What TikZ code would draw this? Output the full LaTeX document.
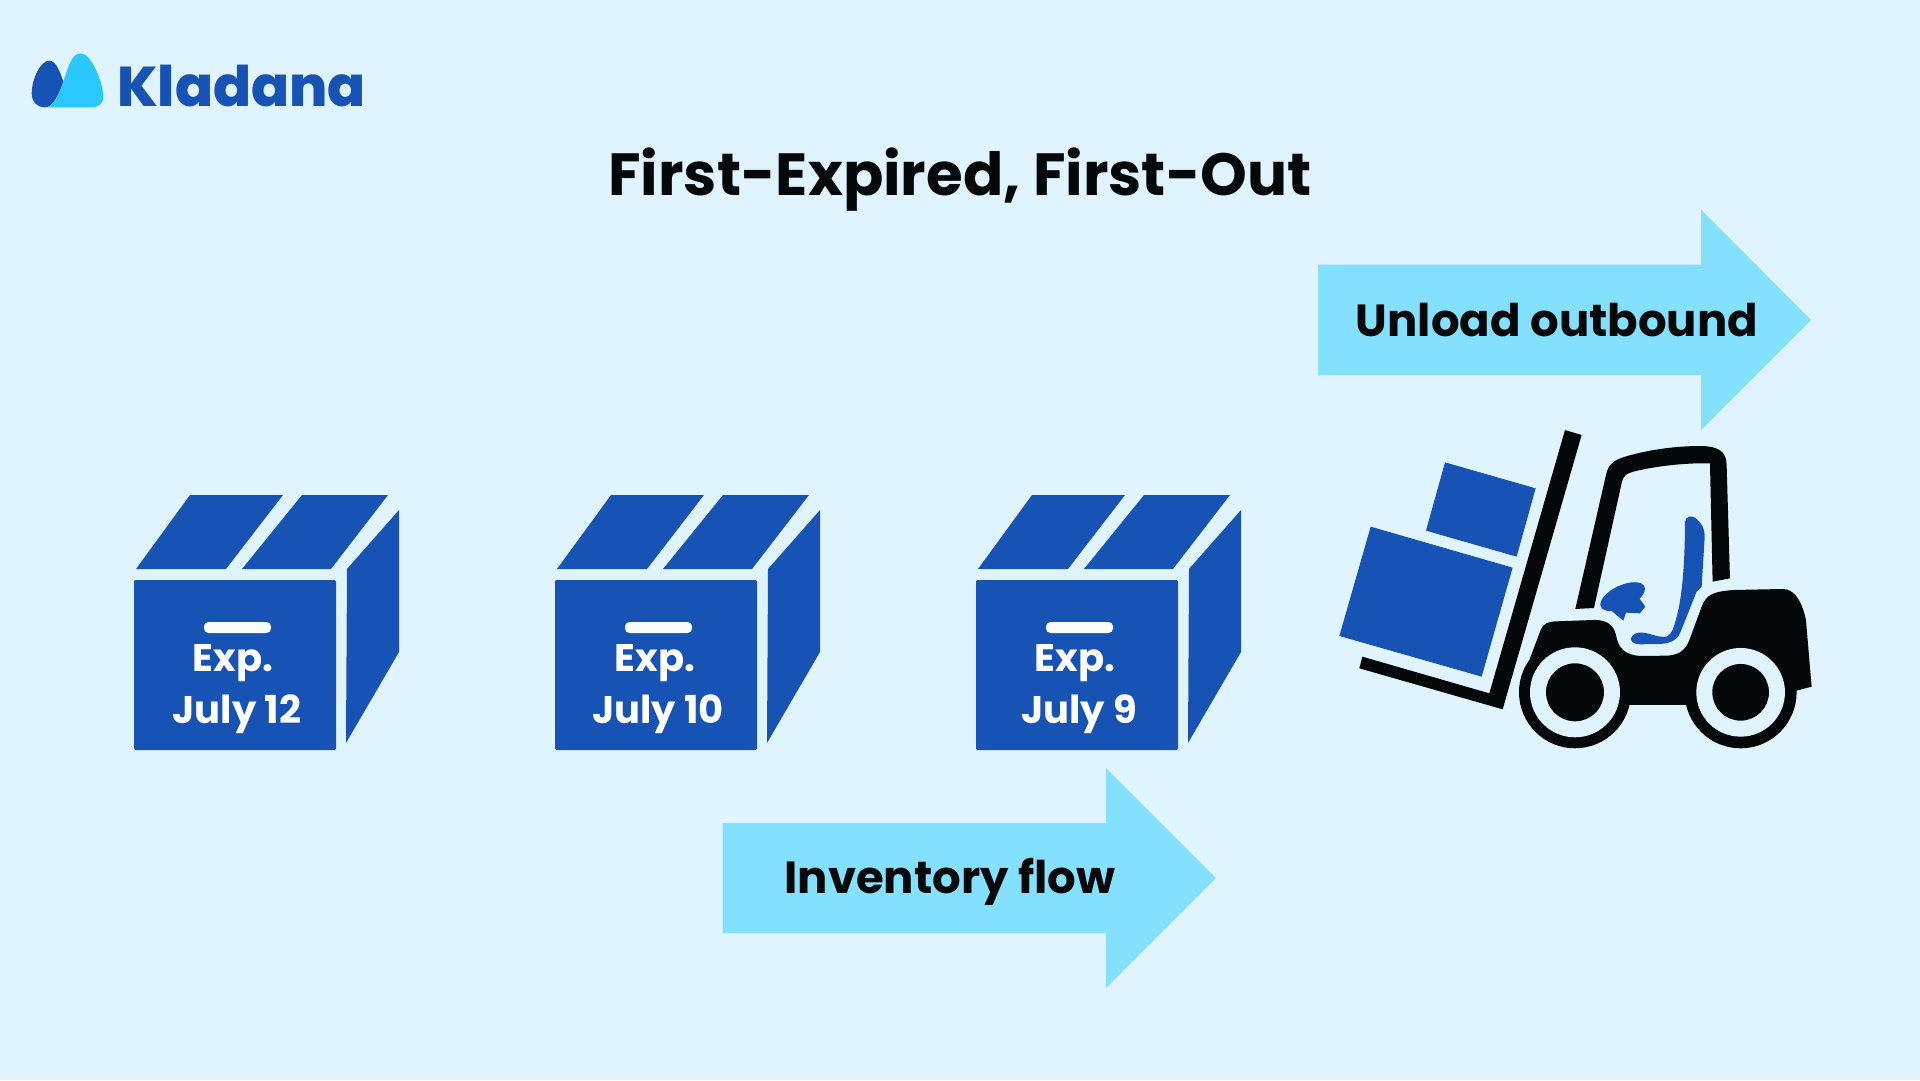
\documentclass[tikz,border=0pt]{standalone}
\usepackage{fontspec}
\setmainfont{Poppins}
\newfontfamily\heavyfont{Poppins ExtraBold}
\definecolor{bgc}{RGB}{224,244,255}
\definecolor{boxc}{RGB}{23,83,180}
\definecolor{arrowc}{RGB}{132,224,255}
\definecolor{logoc}{RGB}{42,200,255}
\definecolor{inkc}{RGB}{5,8,8}
\tikzset{
  lab/.style={font=\fontsize{#1}{#1}\selectfont\bfseries,text=inkc,inner sep=0pt},
  boxlab/.style={font=\fontsize{38.5}{38.5}\selectfont\bfseries,text=white,inner sep=0pt},
  blockarrow/.style={fill=arrowc,draw=none},
  boxpart/.style={fill=boxc,draw=none},
}
\newcommand{\cartonbox}[5]{%
  \begin{scope}[shift={(#1,0)}]
    \fill[boxpart] (190,495)--(283,495)--(226,569)--(136,569)--cycle;
    \fill[boxpart] (302,495)--(388,495)--(331,569)--(242,569)--cycle;
    \fill[boxpart,rounded corners=1.5pt] (134,580)--(336,580)--(336,750)--(134,750)--cycle;
    \fill[boxpart] (347,569)--(399,510)--(399,652)--(346,743)--cycle;
    \fill[white!85!bgc,rounded corners=4.5pt] (204,622) rectangle (271,633);
    \node[boxlab] (#2a) at (#5,663) {Exp.};
    \node[boxlab] (#2b) at (#3,714) {#4};
  \end{scope}}
\begin{document}
\begin{tikzpicture}[x=1pt,y=-1pt]
\useasboundingbox (0,0) rectangle (1920,1080);
\fill[bgc] (0,0) rectangle (1920,1080);
% logo
\begin{scope}[shift={(0,30)},scale=0.3333]
  \fill[boxc] (148,92) .. controls (120,92) and (95,150) .. (95,190) .. controls (95,215) and (110,232) .. (135,232) .. controls (160,232) and (178,190) .. (190,155) .. controls (180,125) and (168,92) .. (148,92) -- cycle;
  \fill[logoc] (142,232) .. controls (165,225) and (180,185) .. (190,155) .. controls (205,110) and (215,70) .. (242,70) .. controls (275,70) and (310,160) .. (310,200) .. controls (310,222) and (295,232) .. (275,232) -- cycle;
\end{scope}
\node[font=\fontsize{56}{56}\selectfont\heavyfont,text=boxc,anchor=base west,inner sep=0pt] (logotext) at (117,106) {Kladana};
% title
\node[lab=59.5] (title) at (960,180) {First-Expired, First-Out};
% arrows
\fill[blockarrow] (1318,264.5)--(1701,264.5)--(1701,209.5)--(1811,320)--(1701,430)--(1701,375)--(1318,375)--cycle;
\node[lab=45] (unload) at (1557,320) {Unload outbound};
\fill[blockarrow] (722.5,823)--(1106,823)--(1106,768)--(1216,878)--(1106,988)--(1106,933)--(722.5,933)--cycle;
\node[lab=45] (flow) at (950,882) {Inventory flow};
% boxes
\cartonbox{0}{bxa}{237}{July 12}{233}
\cartonbox{421}{bxb}{237}{July 10}{234}
\cartonbox{842}{bxc}{237}{July 9}{233}
% forklift
\begin{scope}[shift={(1300,410)},scale=0.3333]
  \fill[boxc] (212,350)--(638,473)--(545,800)--(118,678)--cycle;
  \fill[boxc] (435,157)--(707,235)--(650,440)--(378,362)--cycle;
  \fill[inkc] (795,60)--(845,75)--(608,898)--(178,775)--(187,740)--(568,850)--cycle;
  % cab
  \fill[inkc] (826,597)--(918,195) .. controls (925,160) and (945,150) .. (975,140) .. controls (1050,118) and (1130,108) .. (1200,108) .. controls (1255,108) and (1280,125) .. (1280,165) -- (1290,505)--(1238,515)--(1230,160) .. controls (1150,158) and (1060,170) .. (1000,185) .. controls (980,190) and (970,198) .. (966,215) -- (882,594)--cycle;
  % body
  \fill[inkc] (690,745)--(722,660) .. controls (730,640) and (745,635) .. (770,634) -- (880,630) .. controls (925,628) and (942,650) .. (948,675) .. controls (955,715) and (975,738) .. (1030,738) -- (1100,737) .. controls (1145,735) and (1160,715) .. (1172,680) -- (1205,590) .. controls (1220,550) and (1245,545) .. (1300,540) -- (1450,537) .. controls (1490,537) and (1510,590) .. (1518,630) -- (1535,830)--(1490,842)--(1322,847)--(1160,885)--(985,885)--(825,847)--cycle;
  \fill[inkc] (825,847) circle[radius=168];
  \fill[bgc] (825,847) circle[radius=135];
  \fill[inkc] (825,847) circle[radius=87];
  \fill[inkc] (1322,847) circle[radius=168];
  \fill[bgc] (1322,847) circle[radius=133];
  \fill[inkc] (1322,847) circle[radius=85];
  % seat
  \fill[boxc] (1155,335) .. controls (1158,318) and (1175,315) .. (1188,325) .. controls (1205,340) and (1215,355) .. (1214,385) -- (1205,530) -- (1190,545) -- (1140,670) .. controls (1130,692) and (1110,700) .. (1080,702) -- (1020,703) .. controls (985,703) and (985,675) .. (1015,668) .. controls (1040,664) and (1075,685) .. (1100,680) .. controls (1120,670) and (1125,640) .. (1135,600) .. controls (1150,530) and (1155,430) .. (1155,335) -- cycle;
  % steering
  \fill[boxc,rotate around={25:(968,560)}] (968,560) ellipse[x radius=72,y radius=34];
  \fill[boxc] (915,565)--(922,592)--(970,632)--(978,608)--(1020,610)--(1036,590)--(1000,540)--cycle;
\end{scope}
\end{tikzpicture}
\end{document}
